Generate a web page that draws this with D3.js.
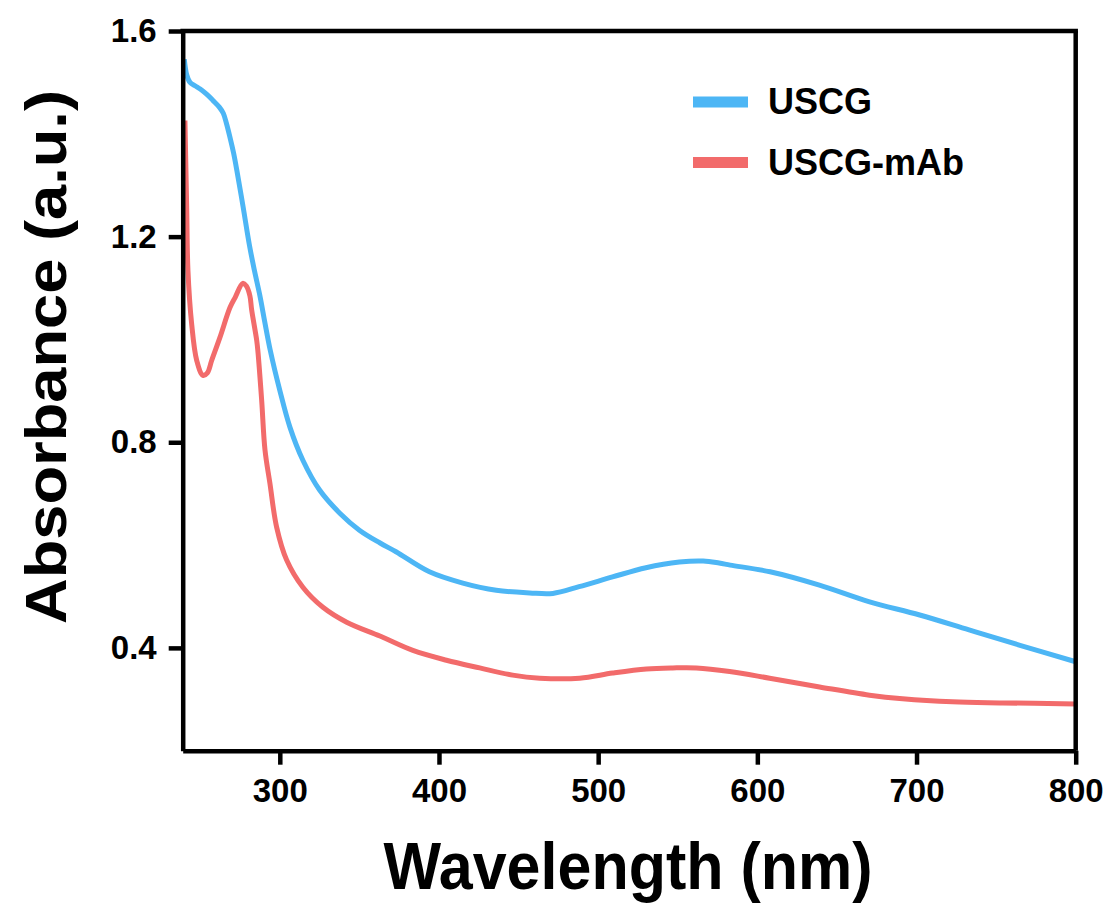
<!DOCTYPE html>
<html>
<head>
<meta charset="utf-8">
<script src="https://cdn.jsdelivr.net/npm/d3@7"></script>
<style>
    body { margin: 0; background: #fff; }
    text { font-family: "Liberation Sans", Arial, sans-serif; font-weight: bold; fill: #000; }
</style>
</head>
<body>
<svg id="chart" width="1112" height="904"></svg>
<script>
// UV-vis absorbance spectra

var xTicks = [ 300, 400, 500, 600, 700, 800 ];
var yTicks = [ 0.4, 0.8, 1.2, 1.6 ];

var seriesNames = [ "USCG", "USCG-mAb" ];
var seriesColors = [ "#4db6f5", "#f26b6b" ];

// USCG
var wavelengthUSCG = [ 240, 241.5, 243.6, 247, 250, 254, 258, 262, 264.5, 266.5, 268.7, 271, 273, 277, 281, 284, 287.5, 290.5, 294, 300,
    306.4, 314.5, 325, 337.7, 350, 363, 373, 394, 415, 436, 457, 471.5, 488, 509, 530, 551, 566, 576, 583, 608, 639, 670, 702, 733, 765, 800 ];
var absUSCG = [ 1.545, 1.515, 1.50, 1.493, 1.487, 1.477, 1.465, 1.452, 1.44, 1.42, 1.393, 1.362, 1.329, 1.257, 1.182, 1.135, 1.085, 1.035, 0.979, 0.901,
    0.829, 0.765, 0.707, 0.662, 0.629, 0.604, 0.587, 0.548, 0.526, 0.512, 0.507, 0.506, 0.519, 0.538, 0.556, 0.567, 0.569, 0.565, 0.561, 0.548, 0.522, 0.49, 0.464, 0.435, 0.405, 0.373 ];

// USCG-mAb
var wavelengthMab = [ 240.4, 241.5, 242.3, 244.6, 247.8, 251.7, 254.5, 257.2, 262.4, 268.7, 272, 276.7, 279, 281.2, 282.3, 285.5, 286.3, 288.6, 290.7, 293.8,
    298, 304.3, 314.5, 327.1, 342, 362.9, 383.6, 404.7, 425.6, 446.3, 463.3, 488.4, 509.1, 530.3, 546.8, 561.7, 582.6, 607.7, 639.1, 670.5, 691.2, 722.6, 754, 800 ];
var absMab = [ 1.426, 1.257, 1.134, 1.031, 0.959, 0.930, 0.935, 0.959, 1.004, 1.062, 1.082, 1.109, 1.104, 1.085, 1.058, 0.998, 0.975, 0.882, 0.785, 0.720,
    0.635, 0.571, 0.518, 0.479, 0.450, 0.423, 0.395, 0.376, 0.361, 0.347, 0.341, 0.341, 0.351, 0.359, 0.361, 0.361, 0.354, 0.341, 0.324, 0.308, 0.301, 0.295, 0.293, 0.291 ];

// plot box
var box = { left: 182.7, top: 31, right: 1075.7, bottom: 750.7 };

var svg = d3.select( "#chart" );

var x = d3.scaleLinear().domain( [ 239, 800 ] ).range( [ box.left, box.right ] );
var y = d3.scaleLinear().domain( [ 0.2, 1.6 ] ).range( [ box.bottom, box.top ] );

var line = d3.line()
    .x( function ( d ) { return x( d[ 0 ] ); } )
    .y( function ( d ) { return y( d[ 1 ] ); } )
    .curve( d3.curveCatmullRom.alpha( 0.5 ) );

var plot = svg.append( "g" );

// draw the mAb curve first, USCG on top
[ [ wavelengthMab, absMab, 1 ], [ wavelengthUSCG, absUSCG, 0 ] ].forEach( function ( s ) {
    var pts = s[ 0 ].map( function ( w, i ) { return [ w, s[ 1 ][ i ] ]; } );
    plot.append( "path" )
        .datum( pts )
        .attr( "d", line )
        .attr( "fill", "none" )
        .attr( "stroke", seriesColors[ s[ 2 ] ] )
        .attr( "stroke-width", 5 )
        .attr( "stroke-linejoin", "round" );
} );

// axes
var xAxis = svg.append( "g" )
    .attr( "transform", "translate(0," + box.bottom + ")" )
    .call( d3.axisBottom( x ).tickValues( xTicks ).tickSize( 14 ).tickPadding( 14 ).tickSizeOuter( 0 ) );

var yAxis = svg.append( "g" )
    .attr( "transform", "translate(" + box.left + ",0)" )
    .call( d3.axisLeft( y ).tickValues( yTicks ).tickFormat( d3.format( ".1f" ) ).tickSize( 14 ).tickPadding( 12 ).tickSizeOuter( 0 ) );

[ xAxis, yAxis ].forEach( function ( ax ) {
    ax.select( ".domain" ).attr( "stroke", "#000" ).attr( "stroke-width", 4.5 );
    ax.selectAll( ".tick line" ).attr( "stroke", "#000" ).attr( "stroke-width", 4.5 );
    ax.selectAll( ".tick text" )
        .style( "font-family", "'Liberation Sans', Arial, sans-serif" )
        .style( "font-weight", "bold" )
        .style( "font-size", "33px" )
        .attr( "fill", "#000" );
} );

// top and right frame lines
svg.append( "line" )
    .attr( "x1", box.left - 2.25 ).attr( "x2", box.right + 2.25 )
    .attr( "y1", box.top ).attr( "y2", box.top )
    .attr( "stroke", "#000" ).attr( "stroke-width", 4.5 );
svg.append( "line" )
    .attr( "x1", box.right ).attr( "x2", box.right )
    .attr( "y1", box.top ).attr( "y2", box.bottom )
    .attr( "stroke", "#000" ).attr( "stroke-width", 4.5 );

// axis titles (the original lettering is a bit stretched vertically)
svg.append( "text" )
    .attr( "transform", "translate(628,889) scale(1,1.1)" )
    .attr( "text-anchor", "middle" )
    .style( "font-size", "61px" )
    .text( "Wavelength (nm)" );

svg.append( "text" )
    .attr( "transform", "translate(66,357) rotate(-90) scale(1.09,1)" )
    .attr( "text-anchor", "middle" )
    .style( "font-size", "58px" )
    .text( "Absorbance (a.u.)" );

// legend
var legend = svg.append( "g" ).attr( "transform", "translate(693,102)" );
seriesNames.forEach( function ( name, i ) {
    var row = legend.append( "g" ).attr( "transform", "translate(0," + ( i * 60.5 ) + ")" );
    row.append( "line" )
        .attr( "x1", 0 ).attr( "x2", 55 )
        .attr( "y1", 0 ).attr( "y2", 0 )
        .attr( "stroke", seriesColors[ i ] )
        .attr( "stroke-width", 11 );
    row.append( "text" )
        .attr( "x", 75 )
        .attr( "y", 12 )
        .style( "font-size", "36px" )
        .text( name );
} );
</script>
</body>
</html>
